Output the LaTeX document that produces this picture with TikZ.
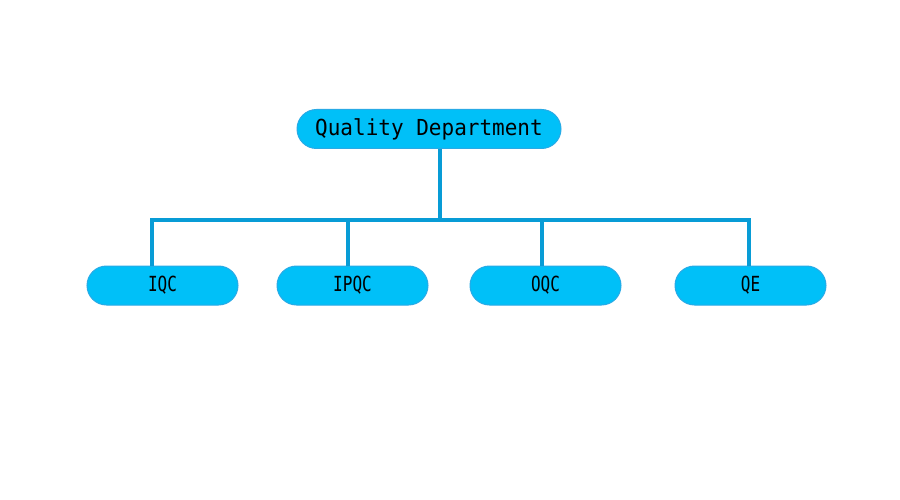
\documentclass[tikz,border=0pt]{standalone}
\usepackage{graphicx}
\usepackage{fontspec}
\setmonofont{DejaVu Sans Mono}
\usetikzlibrary{positioning}
\definecolor{boxblue}{RGB}{0,192,248}
\definecolor{boxedge}{RGB}{40,170,230}
\definecolor{linkblue}{RGB}{8,156,214}
\newcommand{\tall}[2]{\scalebox{1}[#1]{#2}}
\tikzset{
  dept/.style={rectangle, rounded corners=19.5pt, fill=boxblue, draw=boxedge, line width=1pt, minimum height=39pt, inner sep=0pt, font=\ttfamily},
  link/.style={draw=linkblue, line width=4pt}
}
\begin{document}
\begin{tikzpicture}[x=1pt,y=-1pt]
\useasboundingbox[fill=white] (0,0) rectangle (900,500);
%the top box
\node[dept, minimum width=264pt, font=\ttfamily\fontsize{21}{24}\selectfont] (qd) at (429,129) {\tall{1.05}{Quality Department}};
%the boxes along the bottom
\node[dept, minimum width=151pt, font=\ttfamily\fontsize{16}{19}\selectfont] (iqc) at (162.5,285.5) {\tall{1.3}{IQC}};
\node[dept, minimum width=151pt, font=\ttfamily\fontsize{16}{19}\selectfont, right=38pt of iqc] (ipqc) {\tall{1.3}{IPQC}};
\node[dept, minimum width=151pt, font=\ttfamily\fontsize{16}{19}\selectfont, right=41pt of ipqc] (oqc) {\tall{1.3}{OQC}};
\node[dept, minimum width=151pt, font=\ttfamily\fontsize{16}{19}\selectfont, right=53pt of oqc] (qe) {\tall{1.3}{QE}};
%the joints on the bar
\coordinate (jt) at (440,220);
\coordinate (j1) at (152,220);
\coordinate (j2) at (348,220);
\coordinate (j3) at (542,220);
\coordinate (j4) at (749,220);
%the connectors
\draw[link] (jt |- qd.south) -- (jt);
\draw[link] (j1 |- iqc.north) -- (j1) -- (j4) -- (j4 |- qe.north);
\draw[link] (j2) -- (j2 |- ipqc.north);
\draw[link] (j3) -- (j3 |- oqc.north);
\end{tikzpicture}
\end{document}
